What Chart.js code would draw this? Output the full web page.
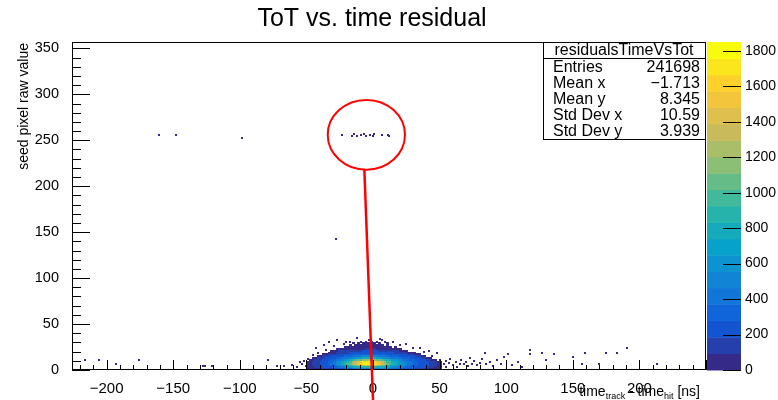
<!DOCTYPE html>
<html><head><meta charset="utf-8">
<script src="https://cdn.jsdelivr.net/npm/chart.js@4.4.1/dist/chart.umd.min.js"></script>
<style>html,body{margin:0;padding:0;background:#fff;}#wrap{width:778px;height:400px;}</style>
</head><body><div id="wrap"><canvas id="c" width="778" height="400"></canvas></div>
<script>
const chartTitle = 'ToT vs. time residual';
const yTitle = 'seed pixel raw value';
const xTicks = [-200,-150,-100,-50,0,50,100,150,200];
const yTicks = [0,50,100,150,200,250,300,350];
const zTicks = [0,200,400,600,800,1000,1200,1400,1600,1800];
const statTitle = 'residualsTimeVsTot';
const statNames = ['Entries','Mean x','Mean y','Std Dev x','Std Dev y'];
const statValues = ['241698','\u22121.713','8.345','10.59','3.939'];

// bin centres of the dense region (2 ns x 2 units)
const xCenters = [-49,-47,-45,-43,-41,-39,-37,-35,-33,-31,-29,-27,-25,-23,-21,-19,-17,-15,-13,-11,-9,-7,-5,-3,-1,1,3,5,7,9,11,13,15,17,19,21,23,25,27,29,31,33,35,37,39,41,43,45,47,49,51];
const yCenters = [1,3,5,7,9,11,13,15,17,19,21,23,25,27,29];
const counts = [
 [3,8,20,45,80,105,127,150,163,178,196,219,242,265,295,332,369,406,443,466,475,483,492,500,497,494,491,485,476,467,446,415,384,354,323,292,268,250,231,213,194,176,158,140,121,99,80,55,30,15,5],
 [5,40,78,108,139,170,196,220,243,266,300,346,393,439,497,566,636,705,755,784,813,842,871,900,871,842,813,784,755,712,657,601,546,490,447,416,385,354,323,292,268,249,231,213,194,170,139,108,77,43,10],
 [8,65,108,139,170,200,231,262,303,356,409,462,541,621,700,786,878,971,1063,1156,1249,1321,1374,1383,1348,1313,1249,1156,1063,971,878,786,712,657,601,546,490,443,406,369,332,295,265,242,219,196,170,139,108,68,20],
 [10,65,108,139,170,203,240,277,339,400,462,555,647,740,851,962,1087,1226,1357,1480,1603,1696,1758,1820,1758,1696,1603,1480,1357,1226,1087,971,879,786,705,636,566,497,441,400,359,318,277,251,225,198,170,139,108,68,20],
 [8,56,96,128,159,191,223,254,302,366,430,508,601,694,796,907,1017,1156,1295,1419,1542,1665,1708,1750,1708,1665,1542,1419,1295,1156,1017,925,832,740,671,601,532,462,421,380,339,298,264,238,211,185,154,124,93,54,15],
 [0,20,60,108,139,170,200,231,262,303,356,409,462,541,621,700,786,879,971,1043,1095,1146,1198,1250,1198,1146,1095,1043,982,913,844,775,705,636,566,497,443,406,369,332,295,265,242,219,196,150,100,50,15,0,0],
 [0,0,15,50,106,132,159,185,211,238,264,296,333,370,407,444,490,545,601,657,712,752,776,800,776,752,717,671,624,578,532,485,449,422,396,370,343,317,290,265,242,219,196,173,110,60,20,0,0,0,0],
 [0,0,0,0,20,60,110,151,174,194,213,231,250,268,290,317,343,370,396,422,449,470,485,500,489,478,467,451,428,404,381,358,335,312,289,270,254,239,224,208,193,150,100,40,10,0,0,0,0,0,0],
 [0,0,0,0,0,0,15,50,100,143,160,176,193,208,223,239,254,269,282,292,301,311,320,330,322,314,305,297,289,281,271,260,248,237,225,214,202,191,177,140,90,40,8,0,0,0,0,0,0,0,0],
 [0,0,0,0,0,0,0,0,12,45,90,130,142,154,167,179,188,194,200,206,212,218,224,230,225,221,216,211,206,202,197,192,187,180,170,160,149,110,60,20,4,0,0,0,0,0,0,0,0,0,0],
 [0,0,0,0,0,0,0,0,0,3,15,50,95,112,122,132,141,151,161,170,180,186,188,190,189,187,186,181,172,164,156,148,139,131,110,70,30,8,0,0,0,0,0,0,0,0,0,0,0,0,0],
 [0,0,0,0,0,0,0,0,0,0,0,2,8,25,40,58,63,69,75,80,86,91,99,110,103,96,88,83,77,72,67,62,45,25,8,2,0,0,0,0,0,0,0,0,0,0,0,0,0,0,0],
 [0,0,0,0,0,0,0,0,0,0,0,0,0,0,1,5,15,30,42,45,49,53,56,60,57,53,50,40,30,18,8,3,0,1,0,0,0,0,0,0,0,0,0,0,0,0,0,0,0,0,0],
 [0,0,0,0,0,0,0,0,0,0,0,0,0,0,0,0,1,0,3,6,9,12,16,20,15,12,8,5,2,0,1,0,0,0,0,0,0,0,0,0,0,0,0,0,0,0,0,0,0,0,0],
 [0,0,0,0,0,0,0,0,0,0,0,0,0,0,0,0,0,1,0,2,0,3,4,5,3,2,0,1,0,0,1,0,0,0,0,0,0,0,0,0,0,0,0,0,0,0,0,0,0,0,0]
];
// isolated single-entry bins
const outlierX = [-23,-16,-14,-12,-9,-7,-5,-2,0,1,7,11,12, -161,-148,-98, -28,
 -216,-206,-193,-176,-128,-126,-121,-79,-72,-67,-61,-55,-57,-52,-50,-53,
 -43,-37,-27,-20,-33,-12,5,15,25,35,42,48,-1,-9,-5,3,9,-3,7,-17,
 -45,-41,-35,-29,30,38,44,50,-49,20,-22,
 53,55,55,57,58,60,62,63,65,66,68,70,71,73,74,76,78,80,82,84,85,88,90,93,96,98,101,104,109,112,118,118,127,130,136,150,159,157,175,183,191,213,170];
const outlierY = [256,255,257,255,256,257,255,256,255,257,256,256,255, 256,256,253, 143,
 11,11,7,11,4,4,4,11,4,4,5,9,3,10,4,6,
 24,27,33,30,30,35,34,31,28,24,21,18,31,31,31,31,31,33,33,31,
 16,19,22,26,24,20,15,11,12,27,28,
 6,10,3,8,12,5,9,3,7,11,6,9,4,13,7,10,5,8,12,18,6,9,4,11,7,14,17,5,9,3,22,17,18,11,17,14,18,7,18,18,24,7,6];

const zMax = 1850, nLevels = 20;
const birdStops = [0,0.125,0.25,0.375,0.5,0.625,0.75,0.875,1];
const birdR = [0.2082,0.0592,0.0780,0.0232,0.1802,0.5301,0.8186,0.9956,0.9764];
const birdG = [0.1664,0.3599,0.5041,0.6419,0.7178,0.7492,0.7328,0.7862,0.9832];
const birdB = [0.5293,0.8684,0.8385,0.7914,0.6425,0.4662,0.3499,0.1968,0.0539];
function bird(t){
  let k = 0; while (k < birdStops.length-2 && t > birdStops[k+1]) k++;
  const f = (t - birdStops[k])/(birdStops[k+1]-birdStops[k]);
  const c = a => Math.round(255*(a[k] + f*(a[k+1]-a[k])));
  return 'rgb(' + c(birdR) + ',' + c(birdG) + ',' + c(birdB) + ')';
}
function levelColor(i){ return bird(i/(nLevels-1)); }
function colorFor(v){ return levelColor(Math.min(nLevels-1, Math.floor(v/(zMax/nLevels)))); }
const cellCache = {};
function cellImage(color, w, h){
  const key = color + w + 'x' + h;
  if (!cellCache[key]) {
    const c = document.createElement('canvas'); c.width = w; c.height = h;
    const g = c.getContext('2d'); g.fillStyle = color; g.fillRect(0,0,w,h);
    cellCache[key] = c;
  }
  return cellCache[key];
}

const cells = [];
counts.forEach((row, j) => row.forEach((v, i) => { if (v > 0) cells.push({x: xCenters[i], y: yCenters[j], v: v}); }));
const singles = outlierX.map((x, i) => ({x: x, y: outlierY[i], v: 1}));

const FONT = '"Liberation Sans", Arial, Helvetica, sans-serif';
Chart.defaults.font.family = FONT;
Chart.defaults.color = '#000';
const minus = v => (v < 0 ? '\u2212' + Math.abs(v) : String(v));

const rootPlugin = {
  id: 'rootStyle',
  beforeDatasetsDraw(chart){ chart.ctx.imageSmoothingEnabled = false; },
  afterDatasetsDraw(chart){
    const ctx = chart.ctx, a = chart.chartArea, xs = chart.scales.x, ys = chart.scales.y, zs = chart.scales.z;
    ctx.save();
    ctx.imageSmoothingEnabled = true;
    ctx.strokeStyle = '#000'; ctx.lineWidth = 1;
    ctx.strokeRect(a.left + 0.5, a.top + 0.5, a.right - a.left - 1, a.bottom - a.top - 1);
    ctx.beginPath();
    for (let v = -220; v <= 250; v += 10) {
      const px = Math.round(xs.getPixelForValue(v)) + 0.5;
      const len = (v % 50 === 0) ? 10 : 5;
      ctx.moveTo(px, a.bottom); ctx.lineTo(px, a.bottom - len);
    }
    for (let v = 0; v <= 357; v += 10) {
      const py = Math.round(ys.getPixelForValue(v)) + 0.5;
      const len = (v % 50 === 0) ? 18 : 9;
      ctx.moveTo(a.left, py); ctx.lineTo(a.left + len, py);
    }
    ctx.stroke();
    // colour bar
    const bx0 = zs.left + 1, bw = 34;
    for (let i = 0; i < nLevels; i++) {
      const y0 = zs.getPixelForValue(i*zMax/nLevels), y1 = zs.getPixelForValue((i+1)*zMax/nLevels);
      ctx.fillStyle = levelColor(i);
      ctx.fillRect(bx0, y1, bw, y0 - y1 + 0.5);
    }
    ctx.beginPath();
    zTicks.forEach(v => { const py = Math.round(zs.getPixelForValue(v)) + 0.5; ctx.moveTo(bx0 + 16, py); ctx.lineTo(bx0 + bw, py); });
    ctx.stroke();
    // stats box
    const sx0 = 543, sx1 = a.right - 1, sy0 = a.top, sy1 = 139;
    ctx.fillStyle = '#fff';
    ctx.fillRect(sx0, sy0, sx1 - sx0, sy1 - sy0);
    ctx.strokeRect(sx0 + 0.5, sy0 + 0.5, sx1 - sx0, sy1 - sy0);
    ctx.beginPath(); ctx.moveTo(sx0, 58.5); ctx.lineTo(sx1, 58.5); ctx.stroke();
    ctx.fillStyle = '#000';
    ctx.font = '16px ' + FONT;
    ctx.textBaseline = 'alphabetic';
    ctx.textAlign = 'center';
    ctx.fillText(statTitle, (sx0 + sx1)/2, 55);
    statNames.forEach((n, i) => {
      const by = 71.5 + i*16;
      ctx.textAlign = 'left'; ctx.fillText(n, 553, by);
      ctx.textAlign = 'right'; ctx.fillText(statValues[i], 700, by);
    });
    // chart title
    ctx.textAlign = 'center';
    ctx.font = '25px ' + FONT;
    ctx.fillText(chartTitle, 372, 26);
    // y title
    ctx.save();
    ctx.translate(28, 43); ctx.rotate(-Math.PI/2);
    ctx.font = '14px ' + FONT; ctx.textAlign = 'right';
    ctx.fillText(yTitle, 0, 0);
    ctx.restore();
    // x title with subscripts
    const parts = [['time',14,0],['track',9,3],[' - time',14,0],['hit',9,3],[' [ns]',14,0]];
    let total = 0;
    parts.forEach(p => { ctx.font = p[1] + 'px ' + FONT; total += ctx.measureText(p[0]).width; });
    let cx = 700 - total;
    ctx.textAlign = 'left';
    parts.forEach(p => { ctx.font = p[1] + 'px ' + FONT; ctx.fillText(p[0], cx, 396 + p[2]); cx += ctx.measureText(p[0]).width; });
    // red annotation
    ctx.strokeStyle = '#ff0000';
    ctx.lineWidth = 2;
    ctx.beginPath();
    const ccx = xs.getPixelForValue(-5), ccy = ys.getPixelForValue(256);
    const rx = Math.abs(xs.getPixelForValue(24) - ccx), ry = Math.abs(ys.getPixelForValue(218) - ccy);
    ctx.ellipse(ccx, ccy, rx, ry, 0, 0, 2*Math.PI);
    ctx.stroke();
    ctx.lineWidth = 2.5;
    ctx.beginPath();
    ctx.moveTo(xs.getPixelForValue(-6.5), ys.getPixelForValue(218));
    ctx.lineTo(xs.getPixelForValue(0), ys.getPixelForValue(-33));
    ctx.stroke();
    ctx.restore();
  }
};

new Chart(document.getElementById('c'), {
  type: 'scatter',
  data: { datasets: [
    { data: cells, pointRadius: 1, pointHoverRadius: 1, borderWidth: 0,
      pointStyle: ctx => cellImage(colorFor(ctx.raw ? ctx.raw.v : 1), 3, 2) },
    { data: singles, pointRadius: 1, pointHoverRadius: 1, borderWidth: 0,
      pointStyle: ctx => cellImage(colorFor(1), 2, 2) }
  ]},
  options: {
    responsive: false, animation: false, events: [],
    layout: { padding: { top: 42, left: 0, right: 0, bottom: 0 } },
    plugins: { legend: { display: false }, tooltip: { enabled: false }, title: { display: false } },
    scales: {
      x: { type: 'linear', position: 'bottom', min: -226, max: 250,
           grid: { display: false }, border: { display: false },
           afterBuildTicks: s => { s.ticks = xTicks.map(v => ({value: v})); },
           afterFit: s => { s.height = 30; },
           ticks: { font: { size: 15 }, padding: 2, maxRotation: 0, autoSkip: false, callback: v => minus(v) } },
      y: { type: 'linear', position: 'left', min: 0, max: 357,
           grid: { display: false }, border: { display: false },
           afterBuildTicks: s => { s.ticks = yTicks.map(v => ({value: v})); },
           afterFit: s => { s.width = 72; },
           ticks: { font: { size: 14.5 }, padding: 5, autoSkip: false, callback: v => minus(v) } },
      z: { type: 'linear', position: 'right', min: 0, max: zMax,
           grid: { display: true, drawOnChartArea: false, drawTicks: true, tickLength: 36, tickColor: 'rgba(0,0,0,0)', color: 'rgba(0,0,0,0)' },
           border: { display: false },
           afterBuildTicks: s => { s.ticks = zTicks.map(v => ({value: v})); },
           afterFit: s => { s.width = 72; },
           ticks: { font: { size: 14 }, padding: 3, autoSkip: false, callback: v => String(v) } }
    }
  },
  plugins: [rootPlugin]
});
</script></body></html>
